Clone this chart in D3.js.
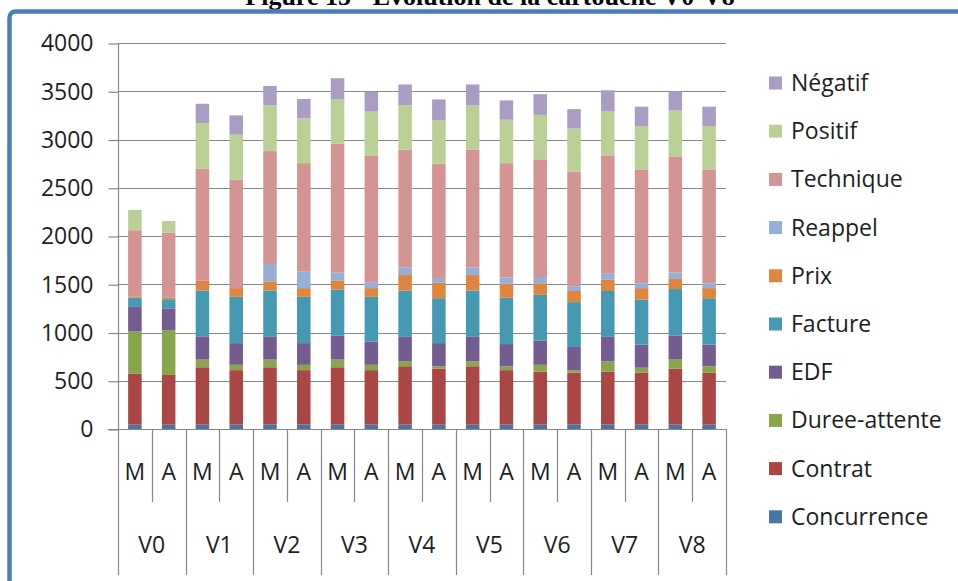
<!DOCTYPE html>
<html>
<head>
<meta charset="utf-8">
<script src="https://d3js.org/d3.v7.min.js"></script>
<style>
  html, body { margin: 0; padding: 0; background: #fff; overflow: hidden; }
  svg { display: block; }
</style>
</head>
<body>
<svg id="chart" width="958" height="581"></svg>
<script>
// Versions of the call-script map, each split into M and A
const versions = ["V0", "V1", "V2", "V3", "V4", "V5", "V6", "V7", "V8"];
const periods = ["M", "A"];
const yTicks = [0, 500, 1000, 1500, 2000, 2500, 3000, 3500, 4000];

// Stacked series, bottom to top (one value per bar: V0-M, V0-A, V1-M, ...)
const seriesNames = ["Concurrence", "Contrat", "Duree-attente", "EDF", "Facture",
                     "Prix", "Reappel", "Technique", "Positif", "Négatif"];
const concurrence = [45, 45, 45, 45, 45, 45, 45, 45, 45, 45, 45, 45, 45, 45, 45, 45, 45, 45];
const contrat     = [530, 515, 595, 565, 595, 565, 595, 565, 605, 580, 605, 565, 550, 540, 550, 540, 580, 540];
const dureeAttente= [435, 465, 80, 55, 80, 55, 80, 55, 50, 25, 50, 40, 70, 25, 105, 50, 95, 65];
const edf         = [255, 225, 240, 225, 240, 225, 250, 240, 255, 240, 255, 230, 250, 240, 255, 240, 250, 225];
const facture     = [95, 95, 475, 480, 475, 480, 475, 465, 480, 465, 480, 480, 475, 465, 475, 465, 480, 480];
const prix        = [15, 15, 105, 90, 95, 90, 95, 90, 160, 160, 160, 145, 120, 115, 120, 120, 105, 105];
const reappel     = [0, 0, 0, 0, 180, 170, 80, 55, 80, 50, 80, 65, 65, 50, 65, 50, 65, 50];
const technique   = [685, 675, 1155, 1125, 1170, 1125, 1335, 1315, 1220, 1185, 1220, 1185, 1220, 1185, 1220, 1180, 1205, 1180];
const positif     = [210, 120, 475, 465, 475, 465, 465, 460, 460, 450, 460, 450, 460, 450, 460, 450, 475, 450];
const negatif     = [0, 0, 200, 200, 200, 200, 215, 205, 215, 215, 215, 200, 215, 200, 215, 200, 200, 200];

const seriesValues = [concurrence, contrat, dureeAttente, edf, facture, prix, reappel, technique, positif, negatif];
const seriesColors = ["#4a73a8", "#aa4745", "#88a54b", "#745b90", "#4599b3",
                      "#de853f", "#97aed6", "#d49493", "#bbd097", "#aa9dc3"];

// One row per bar
const bars = [];
versions.forEach((v, i) => periods.forEach((p, j) => {
  const row = { key: v + "-" + p, version: v, period: p };
  seriesNames.forEach((s, k) => { row[s] = seriesValues[k][i * 2 + j]; });
  bars.push(row);
}));

const svg = d3.select("#chart");
const font = "'Open Sans', sans-serif";
const textColor = "#1e1e1e";
const gridColor = "#888888";

// Caption above the chart frame
svg.append("text")
  .attr("x", 490).attr("y", 5)
  .attr("text-anchor", "middle")
  .attr("font-family", "'Liberation Serif', 'Times New Roman', serif")
  .attr("font-weight", "bold")
  .attr("font-size", 26)
  .attr("fill", "#000")
  .text("Figure 15 - Evolution de la cartouche V0-V8");

// Chart frame
svg.append("rect")
  .attr("x", 9.5).attr("y", 11.5)
  .attr("width", 1100).attr("height", 800)
  .attr("rx", 6)
  .attr("fill", "#fff")
  .attr("stroke", "#4a7ebb")
  .attr("stroke-width", 4.5);

const plotLeft = 118, plotRight = 726, plotTop = 43, plotBottom = 429;

const x = d3.scaleBand()
  .domain(bars.map(d => d.key))
  .range([plotLeft, plotRight])
  .paddingInner(0.6)
  .paddingOuter(0.3);

const y = d3.scaleLinear()
  .domain([0, 4000])
  .range([plotBottom, plotTop]);

// Gridlines
svg.append("g")
  .selectAll("line")
  .data(yTicks.filter(t => t > 0))
  .join("line")
  .attr("x1", plotLeft).attr("x2", plotRight)
  .attr("y1", d => Math.round(y(d)) + 0.5).attr("y2", d => Math.round(y(d)) + 0.5)
  .attr("stroke", gridColor).attr("stroke-width", 1.2);

// Value axis
const yAxis = svg.append("g")
  .attr("transform", `translate(${plotLeft + 0.5},0)`)
  .call(d3.axisLeft(y).tickValues(yTicks).tickSize(10).tickPadding(15).tickFormat(d3.format("d")));
yAxis.select(".domain").remove();
yAxis.selectAll(".tick line").attr("stroke", gridColor).attr("stroke-width", 1.2)
  .attr("transform", "translate(0,0.5)");
yAxis.selectAll(".tick text")
  .attr("font-family", font).attr("font-size", 23).attr("fill", textColor)
  .attr("dy", "0.34em");

// Stacked bars
const stack = d3.stack().keys(seriesNames);
const layers = stack(bars);

svg.append("g")
  .selectAll("g")
  .data(layers)
  .join("g")
  .attr("fill", (d, i) => seriesColors[i])
  .selectAll("rect")
  .data(d => d)
  .join("rect")
  .attr("x", d => x(d.data.key))
  .attr("width", x.bandwidth())
  .attr("y", d => y(d[1]))
  .attr("height", d => Math.max(0, y(d[0]) - y(d[1])));

// Category axis: baseline, separators and two label rows
const step = x.step();
const axisG = svg.append("g");
axisG.append("line")
  .attr("x1", plotLeft - 10).attr("x2", plotRight)
  .attr("y1", plotBottom + 0.5).attr("y2", plotBottom + 0.5)
  .attr("stroke", gridColor).attr("stroke-width", 1.2);
axisG.append("line")
  .attr("x1", plotLeft + 0.5).attr("x2", plotLeft + 0.5)
  .attr("y1", plotTop).attr("y2", plotBottom)
  .attr("stroke", gridColor).attr("stroke-width", 1.2);

const innerBottom = 502, outerBottom = 575;
const boundaries = d3.range(bars.length + 1);
axisG.selectAll("line.sep")
  .data(boundaries)
  .join("line")
  .attr("class", "sep")
  .attr("x1", i => Math.round(plotLeft + i * step) + 0.5)
  .attr("x2", i => Math.round(plotLeft + i * step) + 0.5)
  .attr("y1", plotBottom)
  .attr("y2", i => (i % 2 === 0 ? outerBottom : innerBottom))
  .attr("stroke", gridColor).attr("stroke-width", 1.2);

axisG.selectAll("text.period")
  .data(bars)
  .join("text")
  .attr("class", "period")
  .attr("x", d => x(d.key) + x.bandwidth() / 2)
  .attr("y", 480)
  .attr("text-anchor", "middle")
  .attr("font-family", font).attr("font-size", 23).attr("fill", textColor)
  .text(d => d.period);

axisG.selectAll("text.version")
  .data(versions)
  .join("text")
  .attr("class", "version")
  .attr("x", (v, i) => plotLeft + (i * 2 + 1) * step)
  .attr("y", 553)
  .attr("text-anchor", "middle")
  .attr("font-family", font).attr("font-size", 23).attr("fill", textColor)
  .text(v => v);

// Legend, top entry is the top of the stack
const legendItems = seriesNames.map((s, i) => ({ name: s, color: seriesColors[i] })).reverse();
const legend = svg.append("g")
  .selectAll("g")
  .data(legendItems)
  .join("g")
  .attr("transform", (d, i) => `translate(769,${83 + i * 48.2})`);
legend.append("rect")
  .attr("x", 0).attr("y", -6.5)
  .attr("width", 13).attr("height", 13)
  .attr("fill", d => d.color);
legend.append("text")
  .attr("x", 22).attr("y", 8)
  .attr("font-family", font).attr("font-size", 23).attr("fill", textColor)
  .text(d => d.name);
</script>
</body>
</html>
